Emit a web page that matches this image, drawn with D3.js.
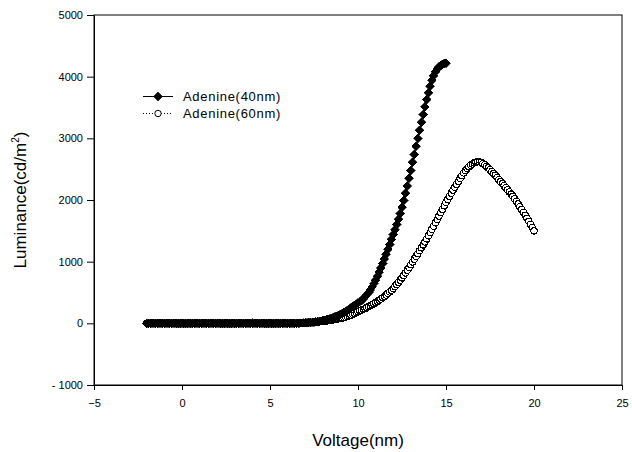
<!DOCTYPE html>
<html>
<head>
<meta charset="utf-8">
<script src="https://cdn.jsdelivr.net/npm/d3@7"></script>
<style>
  body { margin: 0; background: #fff; }
  text { font-family: "Liberation Sans", Arial, sans-serif; fill: #000; }
</style>
</head>
<body>
<div id="chart"></div>
<script>
// voltage sweep (V), 0.1 V steps
const voltage = [
  -2.0,-1.9,-1.8,-1.7,-1.6,-1.5,-1.4,-1.3,-1.2,-1.1,
  -1.0,-0.9,-0.8,-0.7,-0.6,-0.5,-0.4,-0.3,-0.2,-0.1,
  0.0,0.1,0.2,0.3,0.4,0.5,0.6,0.7,0.8,0.9,
  1.0,1.1,1.2,1.3,1.4,1.5,1.6,1.7,1.8,1.9,
  2.0,2.1,2.2,2.3,2.4,2.5,2.6,2.7,2.8,2.9,
  3.0,3.1,3.2,3.3,3.4,3.5,3.6,3.7,3.8,3.9,
  4.0,4.1,4.2,4.3,4.4,4.5,4.6,4.7,4.8,4.9,
  5.0,5.1,5.2,5.3,5.4,5.5,5.6,5.7,5.8,5.9,
  6.0,6.1,6.2,6.3,6.4,6.5,6.6,6.7,6.8,6.9,
  7.0,7.1,7.2,7.3,7.4,7.5,7.6,7.7,7.8,7.9,
  8.0,8.1,8.2,8.3,8.4,8.5,8.6,8.7,8.8,8.9,
  9.0,9.1,9.2,9.3,9.4,9.5,9.6,9.7,9.8,9.9,
  10.0,10.1,10.2,10.3,10.4,10.5,10.6,10.7,10.8,10.9,
  11.0,11.1,11.2,11.3,11.4,11.5,11.6,11.7,11.8,11.9,
  12.0,12.1,12.2,12.3,12.4,12.5,12.6,12.7,12.8,12.9,
  13.0,13.1,13.2,13.3,13.4,13.5,13.6,13.7,13.8,13.9,
  14.0,14.1,14.2,14.3,14.4,14.5,14.6,14.7,14.8,14.9,
  15.0,15.1,15.2,15.3,15.4,15.5,15.6,15.7,15.8,15.9,
  16.0,16.1,16.2,16.3,16.4,16.5,16.6,16.7,16.8,16.9,
  17.0,17.1,17.2,17.3,17.4,17.5,17.6,17.7,17.8,17.9,
  18.0,18.1,18.2,18.3,18.4,18.5,18.6,18.7,18.8,18.9,
  19.0,19.1,19.2,19.3,19.4,19.5,19.6,19.7,19.8,19.9,
  20.0
];

// Adenine 40 nm, -2 .. 15 V
const lum40 = [
  0,0,0,0,0,0,0,0,0,0,
  0,0,0,0,0,0,0,0,0,0,
  0,0,0,0,0,0,0,0,0,0,
  0,0,0,0,0,0,0,0,0,0,
  0,0,0,0,0,0,0,0,0,0,
  0,0,0,0,0,0,0,0,0,0,
  0,0,0,0,0,0,0,0,0,0,
  0,0,0,0,0,0,0,0,0,0,
  0,0,1,1,2,2,3,4,5,6,
  8,10,12,14,17,20,24,28,33,38,
  44,51,58,66,75,85,95,106,118,131,
  145,160,175,192,210,230,250,270,290,310,
  330,350,370,398,430,464,500,543,590,643,
  700,763,830,898,970,1044,1120,1200,1280,1360,
  1440,1520,1600,1688,1780,1882,1990,2108,2230,2354,
  2480,2610,2740,2870,3000,3130,3260,3385,3510,3628,
  3740,3845,3940,4015,4080,4125,4160,4183,4200,4212,
  4220
];

// Adenine 60 nm, -2 .. 20 V
const lum60 = [
  0,0,0,0,0,0,0,0,0,0,
  0,0,0,0,0,0,0,0,0,0,
  0,0,0,0,0,0,0,0,0,0,
  0,0,0,0,0,0,0,0,0,0,
  0,0,0,0,0,0,0,0,0,0,
  0,0,0,0,0,0,0,0,0,0,
  0,0,0,0,0,0,0,0,0,0,
  0,0,0,0,0,0,0,0,0,0,
  0,0,1,1,2,3,4,5,6,7,
  8,9,11,13,15,17,19,21,24,27,
  30,34,38,42,47,52,57,62,68,74,
  80,87,95,102,110,122,135,148,162,176,
  190,202,215,227,240,255,270,285,300,317,
  335,355,375,395,415,437,460,485,510,537,
  565,597,630,665,700,737,775,817,860,905,
  950,995,1040,1085,1130,1177,1225,1272,1320,1370,
  1420,1472,1525,1577,1630,1685,1740,1795,1850,1905,
  1960,2010,2060,2110,2160,2207,2255,2302,2350,2395,
  2440,2475,2510,2538,2565,2585,2605,2615,2625,2620,
  2610,2590,2570,2545,2520,2490,2460,2430,2400,2365,
  2330,2297,2265,2232,2200,2165,2130,2095,2060,2020,
  1980,1935,1890,1845,1800,1752,1705,1655,1605,1552,
  1500
];

const seriesNames = ["Adenine(40nm)", "Adenine(60nm)"];
const xTicks = [-5, 0, 5, 10, 15, 20, 25];
const yTicks = [-1000, 0, 1000, 2000, 3000, 4000, 5000];
const yTickLabels = ["- 1000", "0", "1000", "2000", "3000", "4000", "5000"];

const W = 632, H = 452;
const pLeft = 94, pRight = 622, pTop = 15, pBottom = 385;

const svg = d3.select("#chart").append("svg")
  .attr("width", W).attr("height", H);

const x = d3.scaleLinear().domain([-5, 25]).range([pLeft, pRight]);
const y = d3.scaleLinear().domain([-1000, 5000]).range([pBottom, pTop]);

// frame
svg.append("rect")
  .attr("x", pLeft).attr("y", pTop)
  .attr("width", pRight - pLeft).attr("height", pBottom - pTop)
  .attr("fill", "none").attr("stroke", "#000").attr("stroke-width", 1);

const xAxis = svg.append("g")
  .attr("transform", `translate(0,${pBottom})`)
  .call(d3.axisBottom(x).tickValues(xTicks).tickSize(5).tickSizeOuter(0).tickPadding(9));
const yAxis = svg.append("g")
  .attr("transform", `translate(${pLeft},0)`)
  .call(d3.axisLeft(y).tickValues(yTicks).tickSize(7).tickSizeOuter(0).tickPadding(4)
    .tickFormat((d, i) => yTickLabels[i]));

[xAxis, yAxis].forEach(g => {
  g.selectAll("text").style("font-size", "11px").attr("font-family", null);
  g.selectAll("line").attr("stroke", "#000");
  g.select(".domain").attr("stroke", "#000");
});

svg.append("text")
  .attr("x", (pLeft + pRight) / 2).attr("y", 446)
  .attr("text-anchor", "middle").style("font-size", "17px")
  .text("Voltage(nm)");

const yl = svg.append("text")
  .attr("transform", `translate(26,${(pTop + pBottom) / 2}) rotate(-90)`)
  .attr("text-anchor", "middle").style("font-size", "17px");
yl.append("tspan").text("Luminance(cd/m");
yl.append("tspan").attr("dy", -7).style("font-size", "10px").text("2");
yl.append("tspan").attr("dy", 7).text(")");

const pts40 = lum40.map((v, i) => [voltage[i], v]);
const pts60 = lum60.map((v, i) => [voltage[i], v]);

const line = d3.line().x(d => x(d[0])).y(d => y(d[1]));
const diamond = d3.symbol().type(d3.symbolSquare).size(40);

const g = svg.append("g");

// series 2: dotted line, open circles
g.append("path").datum(pts60).attr("d", line)
  .attr("fill", "none").attr("stroke", "#000").attr("stroke-width", 1)
  .attr("stroke-dasharray", "1,2");
g.selectAll(".c60").data(pts60).enter().append("circle")
  .attr("class", "c60")
  .attr("cx", d => x(d[0])).attr("cy", d => y(d[1])).attr("r", 3.2)
  .attr("fill", "#fff").attr("stroke", "#000").attr("stroke-width", 1.1)
  .attr("shape-rendering", "crispEdges");

// series 1: solid line, filled diamonds (drawn on top)
g.append("path").datum(pts40).attr("d", line)
  .attr("fill", "none").attr("stroke", "#000").attr("stroke-width", 1);
g.selectAll(".d40").data(pts40).enter().append("path")
  .attr("class", "d40")
  .attr("d", diamond)
  .attr("transform", d => `translate(${x(d[0])},${y(d[1])}) rotate(45)`)
  .attr("fill", "#000").attr("stroke", "#000").attr("stroke-width", 0.6)
  .attr("shape-rendering", "crispEdges");

// legend
const leg = svg.append("g");
const legY = [96.5, 113.5];
leg.append("line").attr("x1", 143).attr("x2", 173).attr("y1", legY[0]).attr("y2", legY[0])
  .attr("stroke", "#000");
leg.append("path").attr("d", diamond)
  .attr("transform", `translate(158,${legY[0]}) rotate(45)`)
  .attr("fill", "#000").attr("stroke", "#000").attr("stroke-width", 0.6);
leg.append("line").attr("x1", 143).attr("x2", 173).attr("y1", legY[1]).attr("y2", legY[1])
  .attr("stroke", "#000").attr("stroke-dasharray", "1,2");
leg.append("circle").attr("cx", 158).attr("cy", legY[1]).attr("r", 3.2)
  .attr("fill", "#fff").attr("stroke", "#000");
seriesNames.forEach((n, i) => {
  leg.append("text").attr("x", 183).attr("y", legY[i] + 4.7)
    .style("font-size", "13px").style("letter-spacing", "0.7px").text(n);
});
</script>
</body>
</html>
